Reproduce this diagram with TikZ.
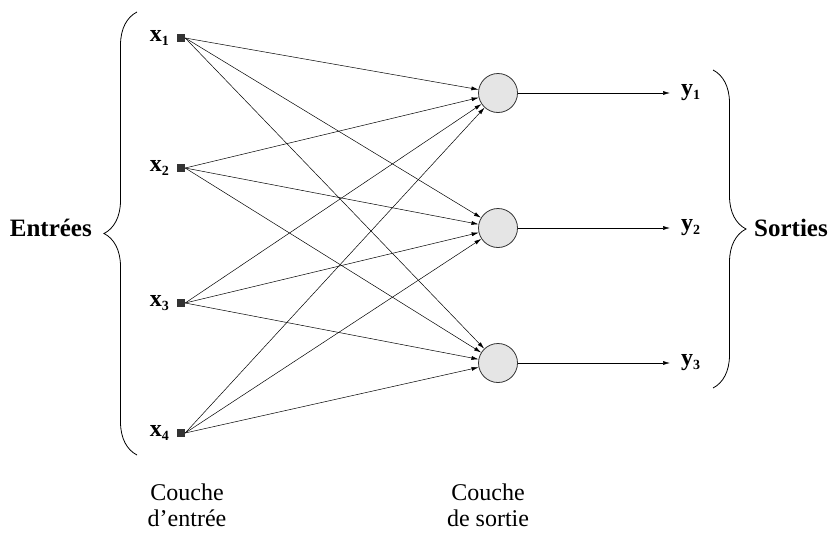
\documentclass[tikz,border=0pt]{standalone}
\usepackage{fontspec}
\setmainfont{Liberation Serif}
\usetikzlibrary{arrows.meta,decorations.pathreplacing}
\begin{document}
\begin{tikzpicture}[x=1pt,y=-1pt,
  inp/.style={rectangle,fill=black!80,minimum size=8pt,inner sep=0pt},
  neuron/.style={circle,draw=black!80,fill=black!10,minimum size=39pt,inner sep=0pt,line width=0.8pt},
  conn/.style={-{Latex[length=7pt,width=4pt]},line width=0.5pt},
  vlab/.style={font=\fontsize{24}{24}\selectfont\bfseries,inner sep=0pt},
  blab/.style={font=\fontsize{25}{25}\selectfont\bfseries,inner sep=0pt},
  clab/.style={font=\fontsize{24}{26}\selectfont,align=center,inner sep=0pt},
  br/.style={decorate,decoration={brace,amplitude=33pt},line width=0.8pt}]
\useasboundingbox (0,0) rectangle (830,533);
\foreach \i/\y in {1/38,2/168,3/303,4/433}{
  \node[inp] (x\i) at (181,\y) {};
  \node[vlab,anchor=east] (lx\i) at (169,\y) {x\raisebox{-0.35ex}{\fontsize{14}{14}\selectfont\i}};
}
\foreach \j/\y in {1/93,2/228,3/363}{
  \node[neuron] (n\j) at (498,\y) {};
  \coordinate (o\j) at (670,\y);
  \node[vlab,anchor=west] (ly\j) at (681,\y) {y\raisebox{-0.35ex}{\fontsize{14}{14}\selectfont\j}};
  \draw[conn] (n\j) -- (o\j);
}
\foreach \i in {1,2,3,4}{
  \foreach \j in {1,2,3}{
    \draw[conn] (x\i.east) -- (n\j);
  }
}
\coordinate (lb1) at (137,455);
\coordinate (lb2) at (137,12);
\draw[br] (lb1) -- (lb2);
\node[blab,anchor=east] (ent) at (92,228) {Entrées};
\coordinate (rb1) at (713,70);
\coordinate (rb2) at (713,388);
\draw[br] (rb1) -- (rb2);
\node[blab,anchor=west] (sor) at (754,228) {Sorties};
\node[clab,anchor=north] (c1) at (187,484) {Couche\\d’entrée};
\node[clab,anchor=north] (c2) at (488,484) {Couche\\de sortie};
\end{tikzpicture}
\end{document}
